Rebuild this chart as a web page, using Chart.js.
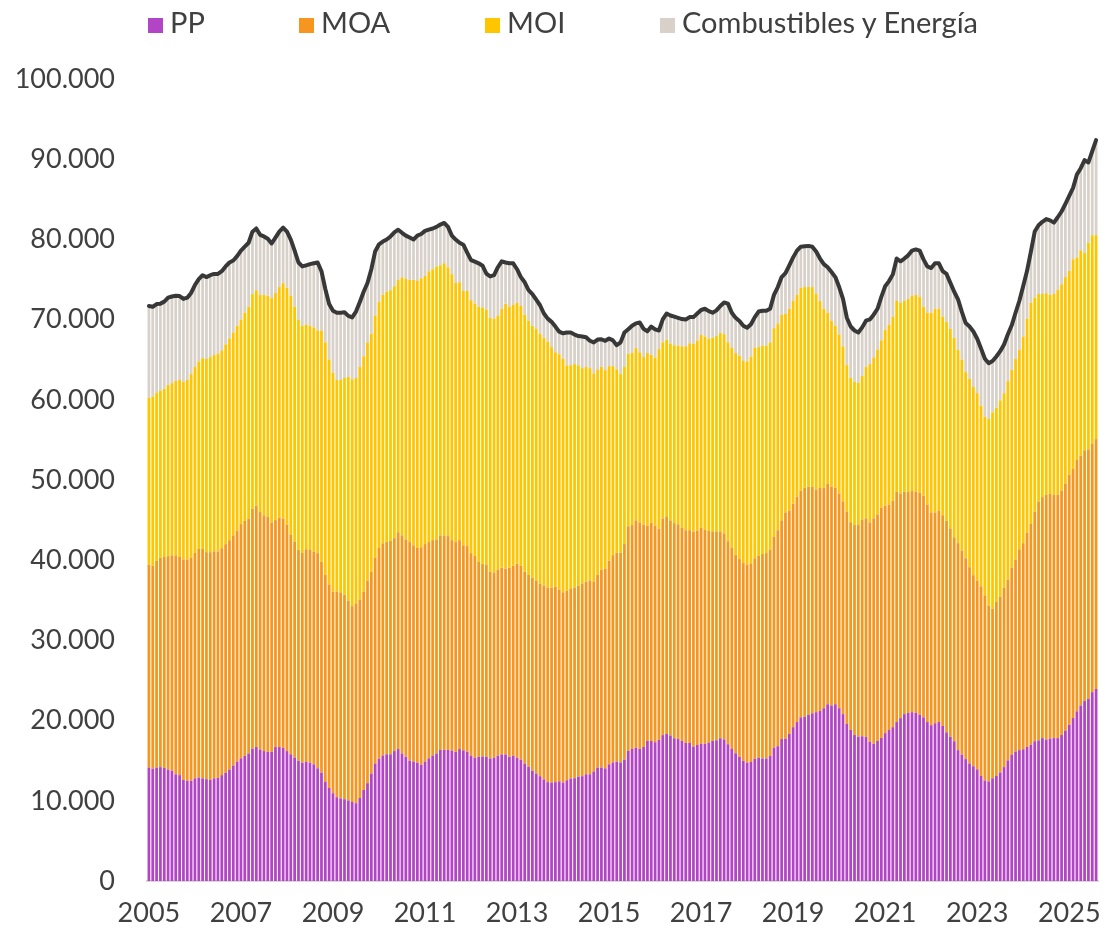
<!DOCTYPE html>
<html lang="es">
<head>
<meta charset="utf-8">
<title>Exportaciones por grandes rubros</title>
<script src="https://cdn.jsdelivr.net/npm/chart.js@4.4.1/dist/chart.umd.min.js"></script>
<style>
    html, body { margin: 0; padding: 0; background: #ffffff; }
    #contenedor { position: relative; width: 1110px; height: 936px; }
    #grafica { position: absolute; left: 0; top: 0; }
    .leyenda { position: absolute; top: 4px; font-family: Lato, "Liberation Sans", sans-serif; font-size: 29px; color: #404040; line-height: 36px; white-space: nowrap; }
    .leyenda span { display: inline-block; width: 15px; height: 15px; margin-right: 7px; vertical-align: 0px; }
</style>
</head>
<body>
<div id="contenedor">
    <canvas id="grafica" width="1110" height="936"></canvas>
    <div class="leyenda" style="left:148px"><span style="background:#B245C5"></span>PP</div>
    <div class="leyenda" style="left:299px"><span style="background:#F7961E"></span>MOA</div>
    <div class="leyenda" style="left:485px"><span style="background:#FFC600"></span>MOI</div>
    <div class="leyenda" style="left:660px"><span style="background:#D8D1C9"></span>Combustibles y Energía</div>
</div>
<script>
// Meses desde enero 2005 hasta agosto 2025 (248 meses), millones de USD
const anioInicio = 2005;
const cantidadMeses = 248;
const aniosEje = ['2005', '2007', '2009', '2011', '2013', '2015', '2017', '2019', '2021', '2023', '2025'];
const ticksY = [0, 10000, 20000, 30000, 40000, 50000, 60000, 70000, 80000, 90000, 100000];

// Productos primarios
const pp = [
    14150, 14000, 14150, 14200, 14100, 13900, 13750, 13300, 13200, 12600, 12500, 12500, 12800, 12900, 12800, 12700, 12600, 12800, 12850, 13200, 13500, 13900, 14400, 14900, 15300, 15600, 15900, 16500, 16700, 16400, 16200, 16100, 16100, 16700, 16700, 16600, 16200, 15800, 15400, 15000, 14750,
    14850, 14750, 14550, 14050, 13500, 12350, 11600, 10950, 10450, 10300, 10200, 10050, 9850, 9700, 10350, 11350, 12200, 13400, 14650, 15250, 15650, 15800, 15800, 16200, 16450, 15900, 15500, 15000, 14900, 14750, 14500, 14900, 15300, 15650, 15900, 16350, 16350, 16350, 16250, 16100, 16450, 16300,
    16120, 15630, 15380, 15480, 15530, 15480, 15280, 15380, 15630, 15780, 15780, 15480, 15630, 15380, 15140, 14640, 14250, 13760, 13410, 13070, 12670, 12330, 12280, 12330, 12430, 12280, 12570, 12770, 12820, 13020, 13070, 13310, 13310, 13660, 14150, 14150, 14050, 14550, 14790, 14890, 14790, 15140,
    16220, 16470, 16620, 16470, 16720, 17460, 17460, 17310, 17600, 18190, 18340, 18150, 17800, 17700, 17460, 17210, 17210, 16770, 16960, 17110, 17110, 17260, 17460, 17550, 17800, 17650, 17060, 16470, 15930, 15480, 14990, 14750, 14840, 15240, 15380, 15280, 15280, 15580, 16620, 16810, 17700,
    17750, 18340, 19180, 19820, 20410, 20460, 20710, 20910, 21050, 21200, 21550, 22040, 21890, 22040, 21550, 20810, 19580, 18840, 18200, 18000, 18050, 17950, 17360, 17110, 17460, 17850, 18440, 18840, 19180, 19820, 20310, 20810, 20960, 21050, 20960, 20710, 20410, 19820, 19430, 19670, 19820, 19330,
    18540, 17980, 17430, 16320, 15760, 15200, 14650, 14310, 13920, 13090, 12530, 12420, 12810, 13090, 13530, 14200, 15040, 15760, 16150, 16320, 16430, 16710, 16980, 17430, 17540, 17820, 17650, 17760, 17820, 17820, 18200, 18760, 19490, 20320, 21160, 21880, 22440, 22710, 23550, 23940
];

// Manufacturas de origen agropecuario
const moa = [
    25300, 25300, 25750, 26100, 26300, 26600, 26850, 27300, 27200, 27500, 27600, 27800, 28100, 28500, 28600, 28300, 28400, 28300, 28250, 28300, 28500, 28600, 28700, 28800, 29200, 29300, 29300, 29900, 30100, 29600, 29400, 29300, 28600, 28300, 28600, 28600, 28200, 27400, 26900, 26300, 26150,
    26520, 26520, 26480, 26830, 26290, 25810, 25380, 25140, 25640, 25690, 25500, 24910, 24420, 24910, 24760, 24740, 25270, 25160, 25640, 26270, 26460, 26460, 26610, 26550, 27040, 27200, 27100, 27260, 26960, 26770, 27120, 27110, 26960, 26850, 26700, 26750, 26750, 26650, 26250, 26160, 26050, 25560,
    25640, 25250, 25150, 24310, 24020, 23970, 23280, 23080, 23180, 23270, 23170, 23570, 23670, 24170, 24160, 23920, 23910, 24060, 24060, 24010, 24160, 24260, 24310, 24360, 23910, 23710, 23620, 23720, 23770, 23810, 24010, 24020, 24160, 23670, 24010, 24660, 24900, 25390, 25840, 26040, 26140, 26870,
    28010, 27910, 28350, 28250, 27710, 26820, 27210, 27020, 26330, 27030, 27120, 26820, 26820, 26780, 26570, 26530, 26530, 26770, 26730, 26920, 26680, 26380, 26130, 26040, 25790, 25690, 25300, 25050, 24700, 24660, 24650, 24700, 24750, 25000, 25150, 25500, 25600, 25740, 26280, 26930, 27270,
    28210, 27860, 27860, 28110, 28260, 28550, 28450, 28250, 27770, 27810, 27460, 27470, 27270, 26970, 26770, 26530, 26500, 25900, 26180, 26380, 27020, 27270, 27360, 28110, 28250, 28700, 28350, 28100, 28250, 28700, 28010, 27710, 27560, 27570, 27560, 27710, 27620, 27120, 26530, 26290, 26380, 26280,
    26380, 25990, 25430, 25810, 25430, 25040, 24480, 23820, 23540, 23650, 23090, 21920, 21140, 21700, 21930, 22370, 22530, 23320, 23930, 25040, 25700, 26710, 27550, 28600, 29770, 30050, 30500, 30500, 30330, 30330, 30500, 30780, 31160, 31050, 31330, 31160, 31270, 31110, 31000, 31160
];

// Manufacturas de origen industrial
const moi = [
    20810, 21100, 21000, 20840, 20990, 21380, 21480, 21780, 22070, 22130, 22370, 22910, 23200, 23390, 23790, 24090, 24330, 24480, 24680, 24670, 24910, 25150, 25300, 25530, 25500, 25960, 26400, 26770, 26870, 27080, 27480, 27580, 27980, 28320, 28760, 29350, 29560, 29780, 29300, 28700, 28330,
    28010, 27960, 28000, 27760, 28850, 29000, 28060, 27270, 26380, 26480, 27020, 27910, 28300, 28110, 28990, 29340, 29690, 29680, 30220, 30670, 30970, 31210, 31260, 31410, 31460, 32190, 32450, 32690, 33090, 33280, 33530, 33430, 33770, 33780, 34030, 33670, 33920, 33530, 33140, 32300, 32150, 31710,
    31810, 31550, 31460, 31810, 31950, 31800, 31660, 31660, 31700, 32300, 33040, 32550, 32540, 32540, 32400, 32050, 31710, 31410, 31410, 31160, 30920, 30670, 29980, 29240, 29340, 29100, 28110, 27810, 27860, 27470, 26870, 26770, 26480, 25980, 25640, 25290, 24760, 24260, 23570, 22870, 22280, 22090,
    21500, 21500, 21500, 21210, 20900, 21550, 20960, 20910, 22390, 21940, 22040, 22040, 22190, 22280, 22640, 22930, 23320, 23420, 23710, 24060, 24110, 23960, 24160, 24360, 24750, 24850, 24800, 24950, 25200, 25340, 25200, 25340, 25790, 26280, 26040, 25980, 25880, 25840, 26030, 25790, 25640,
    24750, 25150, 25290, 25150, 25290, 25050, 24900, 24900, 24400, 23320, 22340, 21350, 20710, 20220, 19820, 19330, 18240, 17990, 17850, 17750, 17900, 18880, 19730, 20070, 20560, 20860, 21950, 22440, 22930, 23810, 23770, 23810, 24060, 24360, 24560, 24410, 23570, 23920, 24900, 25390, 25150, 24750,
    24820, 24880, 24870, 24100, 23820, 23210, 23480, 23480, 23370, 22530, 22260, 23270, 24490, 24210, 24480, 24260, 24760, 24650, 25040, 24870, 25770, 26680, 27570, 26710, 25880, 25320, 25150, 24820, 25040, 25590, 25710, 25760, 25430, 26160, 25260, 25600, 24600, 25770, 25980, 25430
];

// Combustibles y energía
const cye = [
    11440, 11200, 11040, 10850, 10850, 10850, 10800, 10600, 10460, 10350, 10260, 10110, 10210, 10260, 10350, 10210, 10210, 10110, 9910, 9860, 9720, 9470, 8970, 8680, 8600, 8230, 7980, 7790, 7690, 7490, 7290, 7100, 6810, 6910, 6900, 6910, 7000, 7000, 7000, 7120, 7400,
    7390, 7690, 7990, 8480, 7390, 6660, 6900, 7740, 8390, 8390, 8190, 7590, 7700, 8280, 8090, 8040, 7400, 8040, 7990, 7200, 6650, 6510, 6700, 6710, 6260, 5530, 5420, 5280, 5030, 5670, 5520, 5620, 5180, 5080, 4930, 5080, 5030, 5030, 4830, 5420, 4930, 5770,
    4780, 4990, 5230, 5420, 5220, 4490, 5170, 5420, 6020, 5920, 5130, 5420, 5180, 4190, 3600, 4040, 3800, 3940, 3600, 3550, 3010, 2860, 3150, 3200, 2810, 3200, 4090, 4090, 3690, 3650, 3950, 3700, 3410, 3850, 3710, 3450, 3650, 3450, 3210, 3010, 3950, 4290,
    3060, 3350, 3060, 3700, 3510, 2710, 3500, 3550, 2320, 2860, 3260, 3500, 3550, 3460, 3400, 3350, 3250, 3350, 3360, 3110, 3450, 3450, 3110, 3200, 3360, 3950, 4830, 4390, 4390, 4340, 4390, 4190, 4050, 3790, 4430, 4340, 4340, 4190, 4150, 4530, 4690,
    5080, 5420, 5430, 5520, 5130, 5080, 5130, 5030, 5280, 5280, 5570, 5670, 6070, 6070, 5920, 5910, 5920, 6410, 6410, 6260, 6060, 5770, 5570, 5320, 5080, 5420, 5420, 5420, 5280, 5280, 5180, 5280, 5430, 5620, 5670, 5770, 5910, 5770, 5570, 5670, 5670, 5670,
    5950, 5730, 5740, 6290, 5950, 6120, 6520, 6900, 6790, 7130, 7240, 6950, 6400, 6400, 6120, 6070, 5850, 5560, 5730, 6120, 6290, 5980, 6370, 8240, 8570, 9010, 9240, 9290, 8900, 9020, 9070, 9130, 9350, 8900, 10350, 10240, 11570, 10010, 10460, 11860
];

// Etiquetas mensuales "AAAA-MM"
const meses = [];
for (let i = 0; i < cantidadMeses; i++) {
    const anio = anioInicio + Math.floor(i / 12);
    const mes = (i % 12) + 1;
    meses.push(anio + '-' + (mes < 10 ? '0' + mes : mes));
}

// Total = suma de los cuatro rubros (la línea negra)
const total = meses.map((_, i) => pp[i] + moa[i] + moi[i] + cye[i]);

function formatoMiles(v) {
    return v.toString().replace(/\B(?=(\d{3})+(?!\d))/g, '.');
}

const fuenteEjes = { family: 'Lato, "Liberation Sans", sans-serif', size: 27 };
const colorTexto = '#404040';

function barra(nombre, datos, color) {
    return {
        type: 'bar',
        label: nombre,
        data: datos,
        backgroundColor: color,
        borderWidth: 0,
        stack: 'rubros',
        order: 1,
        barPercentage: 0.72,
        categoryPercentage: 1.0
    };
}

new Chart(document.getElementById('grafica'), {
    data: {
        labels: meses,
        datasets: [
            {
                type: 'line',
                label: 'Total',
                data: total,
                borderColor: '#383838',
                borderWidth: 4,
                pointRadius: 0,
                tension: 0,
                borderJoinStyle: 'round',
                borderCapStyle: 'round',
                fill: false,
                stack: 'linea',
                order: 0
            },
            barra('PP', pp, '#B245C5'),
            barra('MOA', moa, '#F7961E'),
            barra('MOI', moi, '#FFC600'),
            barra('Combustibles y Energía', cye, '#D8D1C9')
        ]
    },
    options: {
        responsive: false,
        animation: false,
        layout: { padding: { top: 79, right: 12, left: 0, bottom: 0 } },
        plugins: {
            legend: { display: false },
            tooltip: { enabled: false }
        },
        scales: {
            x: {
                stacked: true,
                grid: { display: false },
                border: { display: true, color: '#D9D9D9', width: 2 },
                afterFit: (escala) => { escala.height = 55; },
                ticks: {
                    autoSkip: false,
                    maxRotation: 0,
                    minRotation: 0,
                    padding: 8,
                    color: colorTexto,
                    font: fuenteEjes,
                    callback: function (valor, indice) {
                        const etiqueta = meses[indice];
                        const anio = etiqueta.slice(0, 4);
                        if (etiqueta.slice(5) === '01' && aniosEje.includes(anio)) return anio;
                        return '';
                    }
                }
            },
            y: {
                stacked: true,
                min: 0,
                max: 100000,
                grid: { display: false, drawTicks: false },
                border: { display: false },
                afterFit: (escala) => { escala.width = 147; },
                afterBuildTicks: (escala) => { escala.ticks = ticksY.map(v => ({ value: v })); },
                ticks: {
                    padding: 32,
                    color: colorTexto,
                    font: fuenteEjes,
                    callback: (v) => formatoMiles(v)
                }
            }
        }
    }
});
</script>
</body>
</html>
